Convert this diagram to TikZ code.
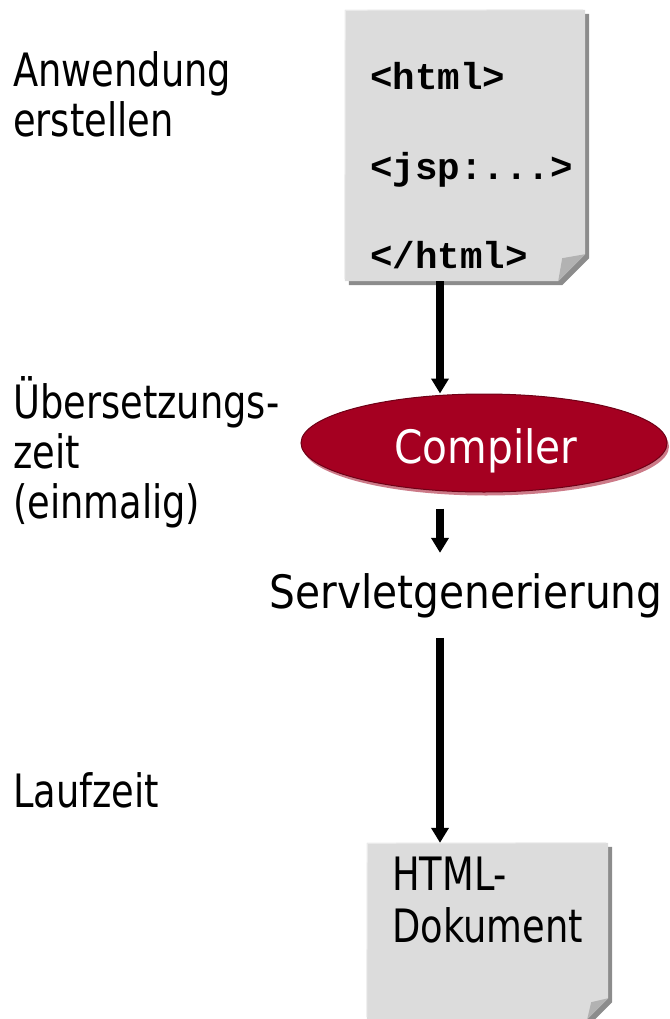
\documentclass[tikz,border=0pt]{standalone}
\usepackage{fontspec}
\usetikzlibrary{shapes.geometric,arrows.meta,calc}
\newfontfamily\tah[FakeStretch=0.8]{DejaVu Sans}
\newfontfamily\tahw[FakeStretch=0.885]{DejaVu Sans}
\newfontfamily\mono{Liberation Mono}
\definecolor{docfill}{HTML}{DCDCDC}
\definecolor{docshadow}{HTML}{8C8C8C}
\definecolor{docflap}{HTML}{B2B2B2}
\definecolor{docedge}{HTML}{EAEAEA}
\definecolor{compred}{HTML}{A50021}
\definecolor{compdark}{HTML}{6E0016}
\definecolor{comppink}{HTML}{CC7A88}
\tikzset{
  lbl/.style={anchor=base west, inner sep=0pt, font=\tah\fontsize{46}{50}\selectfont},
  code/.style={anchor=base west, inner sep=0pt, font=\mono\bfseries\fontsize{37.5}{40}\selectfont},
  docnode/.style={rectangle, inner sep=0pt},
  flow/.style={line width=8pt, -{Triangle[width=17pt,length=15pt]}},
}
% #1 node name, #2 fold size
\newcommand\paperdoc[2]{%
  \fill[docshadow] ([shift={(4,-4)}]#1.north west) -- ([shift={(4,-4)}]#1.north east)
     -- ([shift={(4,#2-4)}]#1.south east) -- ([shift={(4-#2,-4)}]#1.south east)
     -- ([shift={(4,-4)}]#1.south west) -- cycle;
  \fill[docfill] (#1.north west) -- (#1.north east) -- ([yshift=#2]#1.south east)
     -- ([xshift=-#2]#1.south east) -- (#1.south west) -- cycle;
  \draw[docedge, line width=1pt] ([yshift=2]#1.south west) -- ([shift={(0.5,-0.5)}]#1.north west) -- ([xshift=-2]#1.north east);
  \fill[docflap] ([xshift=-#2]#1.south east) -- ([shift={(4-#2,#2-4)}]#1.south east)
     -- ([yshift=#2]#1.south east) -- cycle;
}
\begin{document}
\begin{tikzpicture}[x=1pt,y=1pt]
\useasboundingbox (0,0) rectangle (669,-1019);
\coordinate (ax) at (440,0);

% top document
\node[docnode, minimum width=240pt, minimum height=271pt] (doc1) at (465,-145.5) {};
\paperdoc{doc1}{27}
\node[code] (c1) at (370,-90) {<html>};
\node[code] (c2) at (370,-179) {<jsp:...>};
\node[code] (c3) at (370,-268) {</html>};

% compiler ellipse
\fill[comppink] (486,-446.5) ellipse [x radius=183, y radius=49];
\node[ellipse, fill=compred, draw=compdark, line width=1pt, minimum width=366pt, minimum height=98pt, inner sep=0pt] (comp) at (484,-443) {};
\node[anchor=base, inner sep=0pt, text=white, font=\tahw\fontsize{46}{50}\selectfont] (complbl) at (486,-463) {Compiler};

% servlet generation
\node[anchor=base, inner sep=20pt, font=\tahw\fontsize{46}{50}\selectfont] (serv) at (466,-608) {Servletgenerierung};

% bottom document
\node[docnode, minimum width=241pt, minimum height=176pt] (doc2) at (487.5,-931) {};
\paperdoc{doc2}{21}
\node[lbl] (h1) at (392,-890) {HTML-};
\node[lbl] (h2) at (392,-942) {Dokument};

% arrows
\draw[flow] (doc1.south -| ax) -- (comp.north -| ax);
\draw[flow, shorten <=16pt] (comp.south -| ax) -- (serv.north -| ax);
\draw[flow] (serv.south -| ax) -- (doc2.north -| ax);

% left labels
\node[lbl] (l1) at (13,-87) {Anwendung};
\node[lbl] (l2) at (13,-137) {erstellen};
\node[lbl] (l3) at (13,-418) {Übersetzungs-};
\node[lbl] (l4) at (13,-468) {zeit};
\node[lbl] (l5) at (13,-518) {(einmalig)};
\node[lbl] (l6) at (13,-807) {Laufzeit};
\end{tikzpicture}
\end{document}
